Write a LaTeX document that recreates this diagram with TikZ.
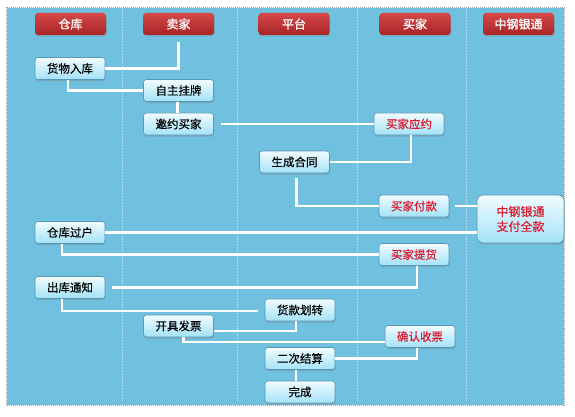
\documentclass[tikz,border=0pt]{standalone}
\usepackage{fontspec}
\setmainfont{Noto Sans CJK SC}[FakeBold=0.4]
\newfontfamily\headfont{Noto Sans CJK SC}[FakeBold=1.2]
\definecolor{laneBg}{RGB}{112,192,224}
\definecolor{laneLine}{RGB}{178,218,238}
\definecolor{headTop}{RGB}{214,72,72}
\definecolor{headBot}{RGB}{168,36,40}
\definecolor{boxTop}{RGB}{242,252,255}
\definecolor{boxBot}{RGB}{162,226,247}
\definecolor{boxEdge}{RGB}{86,152,184}
\definecolor{alertRed}{RGB}{220,26,48}
\usepackage{tikz}
\usetikzlibrary{positioning, calc, shadows}

\begin{document}
\begin{tikzpicture}[x=1pt, y=-1pt,
  head/.style={rounded corners=3pt, top color=headTop, bottom color=headBot,
               minimum width=71pt, minimum height=22pt, inner sep=1pt, text=white,
               font=\headfont\fontsize{12}{14}\selectfont,
               drop shadow={shadow xshift=0.6pt, shadow yshift=-1.4pt, opacity=0.35}},
  task/.style={draw=boxEdge, line width=0.6pt, rounded corners=3pt,
               top color=boxTop, bottom color=boxBot,
               minimum width=70pt, minimum height=22pt, inner sep=1pt,
               font=\fontsize{11.5}{14}\selectfont,
               drop shadow={shadow xshift=0.6pt, shadow yshift=-1.6pt, opacity=0.4}},
  alert/.style={task, text=alertRed},
  link/.style={white, line width=2.3pt}]
  % background and lanes
  \fill[laneBg] (7,8) rectangle (564,405);
  \draw[gray!70, densely dotted, line width=1pt] (6.5,7.5) rectangle (564.5,405.5);
  \foreach \x in {122,237,357,466}
    \draw[laneLine, densely dotted, line width=0.5pt] (\x,8) -- (\x,400);
  \useasboundingbox (0,0) rectangle (575,417);
  % lane heads
  \node[head] (h1) at (70.5,24) {仓库};
  \node[head] (h2) at (178.5,24) {卖家};
  \node[head] (h3) at (294,24) {平台};
  \node[head] (h4) at (415,24) {买家};
  \node[head] (h5) at (518.5,24) {中钢银通};
  % steps
  \node[task] (stockIn) at (70,68.5) {货物入库};
  \node[task] (listing) at (178.5,90.5) {自主挂牌};
  \node[task] (invite) at (178.5,124) {邀约买家};
  \node[alert] (accept) at (409,124) {买家应约};
  \node[task] (contract) at (294.5,162) {生成合同};
  \node[alert] (payment) at (414,206) {买家付款};
  \node[alert, minimum width=87pt, minimum height=48pt, rounded corners=6pt,
        align=center, font=\fontsize{12}{15}\selectfont] (bank) at (520.5,219) {中钢银通\\支付全款};
  \node[task] (transfer) at (70,232.5) {仓库过户};
  \node[alert] (pickup) at (414,254.5) {买家提货};
  \node[task] (stockOut) at (70,287.5) {出库通知};
  \node[task] (payout) at (300,310) {货款划转};
  \node[task] (invoice) at (178.5,326) {开具发票};
  \node[alert] (receipt) at (420,336.5) {确认收票};
  \node[task] (settle) at (300,358.5) {二次结算};
  \node[task] (done) at (300,392) {完成};
  % connectors
  \draw[link] ([yshift=-7pt]h2.south) |- (stockIn.east);
  \draw[link] ([xshift=-2pt]stockIn.south) |- (listing.west);
  \draw[link] ([xshift=-1pt]listing.south) -- ([xshift=-1pt]invite.north);
  \draw[link] ([xshift=7pt]invite.east) -- (accept.west);
  \draw[link] ([xshift=2pt]accept.south) |- (contract.east);
  \draw[link] ([xshift=2pt,yshift=-5pt]contract.south) |- (payment.west);
  \draw[link] ([xshift=6pt]payment.east) -- (payment.east -| bank.west);
  \draw[link] (bank.west |- transfer.east) -- (transfer.east);
  \draw[link] ([xshift=-8pt]transfer.south) |- (pickup.west);
  \draw[link] ([xshift=3pt]pickup.south) |- ([xshift=7pt]stockOut.east);
  \draw[link] ([xshift=-8pt]stockOut.south) |- ([xshift=-7pt,yshift=-1pt]payout.west);
  \draw[link] ([xshift=-4pt]payout.south) |- ([yshift=-5pt]invoice.east);
  \draw[link] ([xshift=5pt]invoice.south) |- ([yshift=-5.5pt]receipt.west);
  \draw[link] ([xshift=-3pt]receipt.south) |- (settle.east);
  \draw[link] ([xshift=-4pt]settle.south) -- ([xshift=-4pt]done.north);
\end{tikzpicture}
\end{document}
